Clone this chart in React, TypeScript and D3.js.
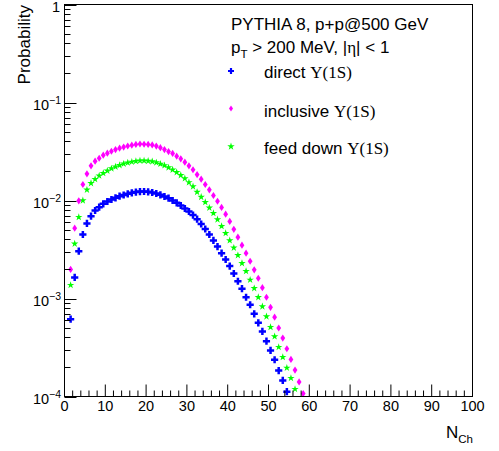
import React from "react";
import * as d3 from "d3";

// N_Ch starts at 1 (one entry per bin)
const firstN = 1;

const directY1S = [
  6.15e-4, 0.00164, 0.00304, 0.0045, 0.00583, 0.00692, 0.00791, 0.00854, 0.00925, 0.00977,
  0.01024, 0.01066, 0.01106, 0.01138, 0.01171, 0.01198, 0.01218, 0.01233, 0.01236, 0.01227,
  0.01207, 0.01179, 0.01143, 0.01098, 0.01056, 0.0100, 0.00947, 0.00889, 0.00829, 0.00772,
  0.0071, 0.00645, 0.00576, 0.00512, 0.0045, 0.00391, 0.00339, 0.0029, 0.0025, 0.00214,
  0.0018, 0.0015, 0.00126, 0.00103, 8.63e-4, 6.98e-4, 5.65e-4, 4.61e-4, 3.67e-4, 2.95e-4,
  2.37e-4, 1.84e-4, 1.46e-4, 1.12e-4,
];

const inclusiveY1S = [
  0.00198, 0.00522, 0.00993, 0.01457, 0.01873, 0.0226, 0.0252, 0.027, 0.029, 0.0304,
  0.0318, 0.0331, 0.0342, 0.0351, 0.036, 0.0367, 0.0373, 0.0377, 0.0375, 0.0373,
  0.0369, 0.0359, 0.0346, 0.0331, 0.0316, 0.0302, 0.0283, 0.0266, 0.0246, 0.0226,
  0.0206, 0.0184, 0.0165, 0.01457, 0.01286, 0.01125, 0.00983, 0.00849, 0.00725, 0.00611,
  0.00508, 0.00422, 0.0035, 0.0029, 0.0024, 0.00196, 0.00161, 0.00129, 0.00103, 8.13e-4,
  6.45e-4, 5.0e-4, 3.95e-4, 3.07e-4, 2.39e-4, 1.86e-4, 1.41e-4, 1.07e-4,
];

const feedDownY1S = [
  0.00137, 0.00362, 0.00676, 0.01, 0.01286, 0.015, 0.0165, 0.0179, 0.019, 0.0201,
  0.0212, 0.0221, 0.0229, 0.0237, 0.0243, 0.0248, 0.0252, 0.0255, 0.0255, 0.0253,
  0.025, 0.0244, 0.0236, 0.0228, 0.0217, 0.0206, 0.0194, 0.0181, 0.0168, 0.0153,
  0.0139, 0.0122, 0.01086, 0.00961, 0.00843, 0.00742, 0.0064, 0.00547, 0.00464, 0.00391,
  0.00329, 0.00276, 0.00229, 0.0019, 0.00155, 0.00127, 0.00103, 8.29e-4, 6.55e-4, 5.1e-4,
  4.1e-4, 3.19e-4, 2.52e-4, 1.96e-4, 1.54e-4, 1.19e-4,
];

const xTickValues = [0, 10, 20, 30, 40, 50, 60, 70, 80, 90, 100];
const yDecades = [1e-4, 1e-3, 1e-2, 1e-1, 1];
const yDecadeExponents = ["\u22124", "\u22123", "\u22122", "\u22121", ""];

const headerLine1 = "PYTHIA 8, p+p@500 GeV";
const legendLabels = ["direct", "inclusive", "feed down"];

const W = 499;
const H = 451;
const L = 64.5;
const R = 472.5;
const T = 4.5;
const B = 396.5;
const SANS = "'Liberation Sans', Arial, Helvetica, sans-serif";
const SERIF = "'Liberation Serif', 'Times New Roman', serif";

const BLUE = "#0000ff";
const MAGENTA = "#ff00ff";
const GREEN = "#00ff00";

function crossPath(x: number, y: number, a = 3.6, t = 1.25) {
  return `M${x - t},${y - a}H${x + t}V${y - t}H${x + a}V${y + t}H${x + t}V${y + a}H${x - t}V${y + t}H${x - a}V${y - t}H${x - t}Z`;
}
function diamondPath(x: number, y: number, w = 2.4, h = 3.6) {
  return `M${x},${y - h}L${x + w},${y}L${x},${y + h}L${x - w},${y}Z`;
}
const starGen = d3.symbol().type(d3.symbolStar).size(17);

export default function App() {
  const x = d3.scaleLinear().domain([0, 100]).range([L, R]);
  const y = d3.scaleLog().domain([1e-4, 1]).range([B, T]);

  const minorX = d3.range(0, 101, 2).filter((v) => v % 10 !== 0);
  const minorY: number[] = [];
  for (let e = -4; e < 0; e++) {
    for (let m = 2; m <= 9; m++) minorY.push(m * Math.pow(10, e));
  }

  const inRange = (v: number) => v >= 1e-4 && v <= 1;
  const cx = (i: number) => x(firstN + i + 0.5);

  return (
    <svg
      width={W}
      height={H}
      style={{ position: "absolute", left: 0, top: 0, background: "#fff" }}
      fontFamily={SANS}
    >
      <rect x={0} y={0} width={W} height={H} fill="#fff" />
      {/* data */}
      <g>
        {feedDownY1S.map((v, i) =>
          inRange(v) ? (
            <path key={"g" + i} d={starGen() as string} transform={`translate(${cx(i)},${y(v)})`} fill={GREEN} />
          ) : null
        )}
        {inclusiveY1S.map((v, i) =>
          inRange(v) ? <path key={"m" + i} d={diamondPath(cx(i), y(v))} fill={MAGENTA} /> : null
        )}
        {directY1S.map((v, i) =>
          inRange(v) ? <path key={"b" + i} d={crossPath(cx(i), y(v))} fill={BLUE} /> : null
        )}
      </g>
      {/* frame */}
      <rect x={L} y={T} width={R - L} height={B - T} fill="none" stroke="#000" strokeWidth={1} />
      {/* x ticks */}
      {xTickValues.map((v) => (
        <line key={"xt" + v} x1={x(v)} x2={x(v)} y1={B} y2={B - 12} stroke="#000" />
      ))}
      {minorX.map((v) => (
        <line key={"xm" + v} x1={x(v)} x2={x(v)} y1={B} y2={B - 6} stroke="#000" />
      ))}
      {xTickValues.map((v) => (
        <text key={"xl" + v} x={x(v)} y={411} fontSize={14.5} textAnchor="middle">
          {v}
        </text>
      ))}
      {/* y ticks */}
      {yDecades.map((v) => (
        <line key={"yt" + v} x1={L} x2={L + 12} y1={Math.round(y(v)) + 0.5} y2={Math.round(y(v)) + 0.5} stroke="#000" />
      ))}
      {minorY.map((v) => (
        <line key={"ym" + v} x1={L} x2={L + 6} y1={Math.round(y(v)) + 0.5} y2={Math.round(y(v)) + 0.5} stroke="#000" />
      ))}
      {yDecades.map((v, i) =>
        yDecadeExponents[i] === "" ? (
          <text key={"yl" + v} x={60} y={y(v) + 7} fontSize={14.5} textAnchor="end">
            1
          </text>
        ) : (
          <text key={"yl" + v} x={61} y={y(v) + 7.5} fontSize={14.5} textAnchor="end">
            10
            <tspan dy={-6} fontSize={10.5}>
              {yDecadeExponents[i]}
            </tspan>
          </text>
        )
      )}
      {/* axis titles */}
      <text transform={`translate(29.5,5) rotate(-90)`} fontSize={17} textAnchor="end">
        Probability
      </text>
      <text x={473} y={437.5} fontSize={17} textAnchor="end">
        N
        <tspan dy={5} fontSize={11.5}>
          Ch
        </tspan>
      </text>
      {/* legend */}
      <text x={231} y={29.5} fontSize={17}>
        {headerLine1}
      </text>
      <text x={231} y={53} fontSize={17}>
        p
        <tspan dy={5} fontSize={11.5}>
          T
        </tspan>
        <tspan dy={-5}>{" > 200 MeV, |"}</tspan>
        <tspan fontFamily={SERIF}>{"\u03b7"}</tspan>
        <tspan>{"| < 1"}</tspan>
      </text>
      {legendLabels.map((lab, i) => {
        const my = [71, 108.5, 146.5][i];
        const ty = [78, 116.5, 154][i];
        const mk =
          i === 0 ? (
            <path d={crossPath(231, my, 3, 1.1)} fill={BLUE} />
          ) : i === 1 ? (
            <path d={diamondPath(231, my, 2, 3)} fill={MAGENTA} />
          ) : (
            <path d={starGen() as string} transform={`translate(231,${my})`} fill={GREEN} />
          );
        return (
          <g key={"lg" + i}>
            {mk}
            <text x={264} y={ty} fontSize={17}>
              {lab + " "}
              <tspan fontFamily={SERIF}>{"\u03a5(1S)"}</tspan>
            </text>
          </g>
        );
      })}
    </svg>
  );
}
